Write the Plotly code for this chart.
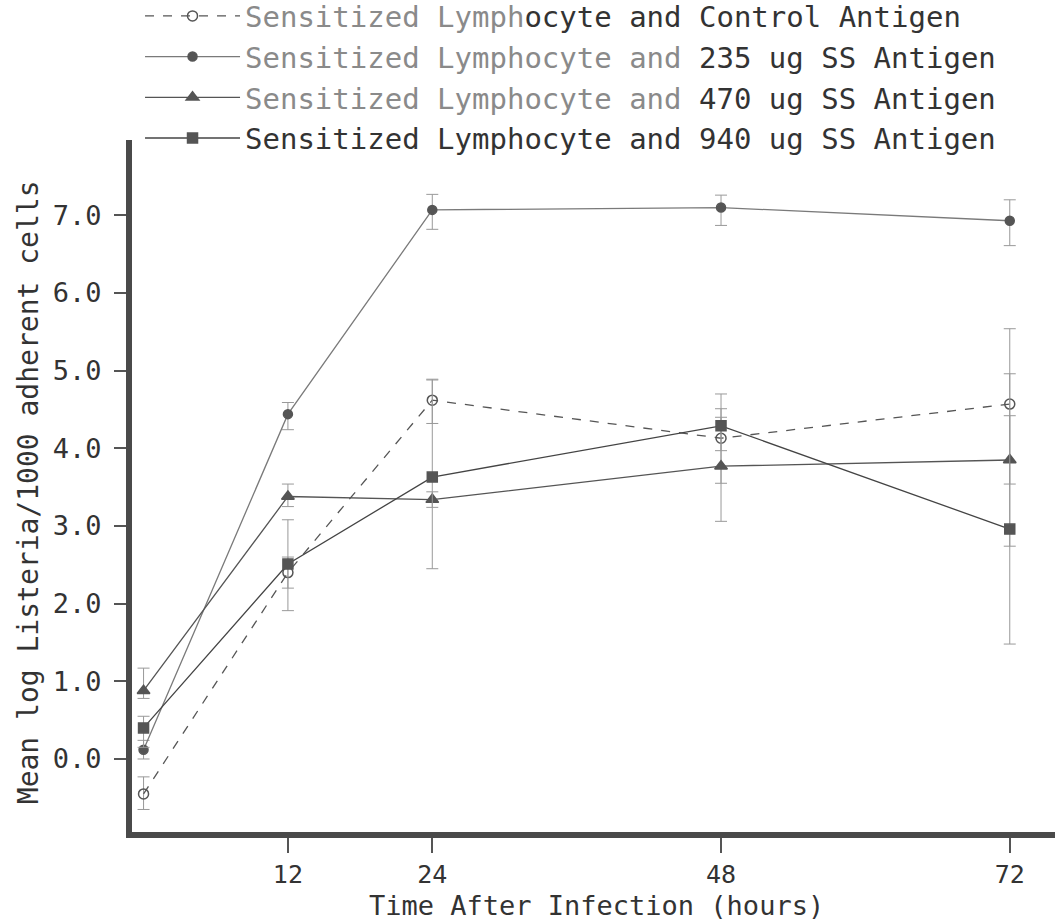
import plotly.graph_objects as go

times = [0, 12, 24, 48, 72]
x_ticks = [12, 24, 48, 72]
y_ticks = [0, 1, 2, 3, 4, 5, 6, 7]
y_tick_labels = ["0.0", "1.0", "2.0", "3.0", "4.0", "5.0", "6.0", "7.0"]

names = [
    "<span style='color:#8a8a8a'>Sensitized Lymph</span>ocyte and Control Antigen",
    "<span style='color:#8a8a8a'>Sensitized Lymphocyte and</span> 235 ug SS Antigen",
    "<span style='color:#8a8a8a'>Sensitized Lymphocyte and</span> 470 ug SS Antigen",
    "Sensitized Lymphocyte and 940 ug SS Antigen",
]
x_title = "Time After Infection (hours)"
y_title = "Mean log Listeria/1000 adherent cells"

control_mean = [-0.45, 2.40, 4.62, 4.13, 4.57]
control_up = [0.22, 0.20, 0.27, 0.57, 0.97]
control_down = [0.20, 0.20, 0.30, 0.58, 1.03]

ss235_mean = [0.12, 4.44, 7.07, 7.10, 6.93]
ss235_up = [0.12, 0.15, 0.20, 0.16, 0.27]
ss235_down = [0.12, 0.20, 0.25, 0.23, 0.32]

ss470_mean = [0.88, 3.38, 3.34, 3.77, 3.85]
ss470_up = [0.29, 0.16, 0.10, 0.63, 1.11]
ss470_down = [0.10, 0.13, 0.10, 0.71, 1.11]

ss940_mean = [0.40, 2.51, 3.63, 4.29, 2.96]
ss940_up = [0.15, 0.57, 1.25, 0.22, 1.46]
ss940_down = [0.25, 0.60, 1.18, 0.32, 1.48]

FONT = "DejaVu Sans Mono"

fig = go.Figure()

series = [
    (control_mean, control_up, control_down, "circle-open", "dash", "#555555", "#555555", 10),
    (ss235_mean, ss235_up, ss235_down, "circle", "solid", "#7a7a7a", "#555555", 9),
    (ss470_mean, ss470_up, ss470_down, "triangle-up", "solid", "#555555", "#555555", 11),
    (ss940_mean, ss940_up, ss940_down, "square", "solid", "#444444", "#555555", 10),
]

for name, (m, up, dn, sym, dash, lcol, mcol, size) in zip(names, series):
    fig.add_trace(go.Scatter(
        x=times, y=m, name=name, mode="lines+markers",
        line=dict(color=lcol, width=1.3, dash=dash),
        marker=dict(symbol=sym, size=size, color=mcol,
                    line=dict(color=mcol, width=1.5)),
        error_y=dict(type="data", symmetric=False, array=up, arrayminus=dn,
                     color="#999999", thickness=1, width=6),
    ))

fig.update_layout(
    width=1059, height=921,
    paper_bgcolor="white", plot_bgcolor="white",
    margin=dict(l=132, r=4, t=140, b=89, autoexpand=False),
    font=dict(family=FONT, size=24, color="#333333"),
    legend=dict(x=0.0087, y=1.216, xanchor="left", yanchor="top",
                font=dict(family=FONT, size=29, color="#333333"),
                bgcolor="rgba(0,0,0,0)", tracegroupgap=0, itemwidth=95),
    showlegend=True,
    annotations=[
        dict(text=x_title, xref="paper", yref="paper", x=0.503, y=0,
             xanchor="center", yanchor="middle", yshift=-73, showarrow=False,
             font=dict(family=FONT, size=27, color="#333333")),
        dict(text=y_title, xref="paper", yref="paper", x=0, y=0.491,
             xanchor="center", yanchor="middle", xshift=-104, textangle=-90,
             showarrow=False, font=dict(family=FONT, size=28, color="#333333")),
    ],
)

fig.update_xaxes(
    range=[-0.96, 75.76], tickvals=x_ticks, ticktext=[str(t) for t in x_ticks],
    showgrid=False, zeroline=False, showline=True, linewidth=6, linecolor="#4a4a4a",
    ticks="outside", ticklen=15, tickwidth=1.5, tickcolor="#555555",
    automargin=False,
    tickfont=dict(family=FONT, size=25, color="#333333"),
)
fig.update_yaxes(
    range=[-0.94, 7.97], tickvals=y_ticks, ticktext=y_tick_labels,
    showgrid=False, zeroline=False, showline=True, linewidth=6, linecolor="#4a4a4a",
    ticks="outside", ticklen=12, tickwidth=1.5, tickcolor="#555555",
    ticklabelstandoff=7, automargin=False,
    tickfont=dict(family=FONT, size=27, color="#333333"),
)

fig.write_html("out.html", config={"displayModeBar": False},
               post_script="document.body.style.margin='0px';")
